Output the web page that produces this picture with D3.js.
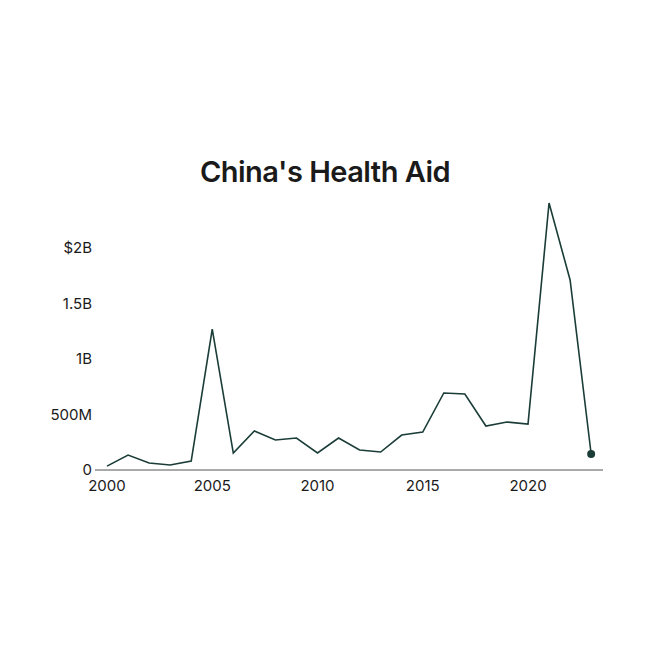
<!DOCTYPE html>
<html><head><meta charset="utf-8">
<script src="https://cdn.jsdelivr.net/npm/d3@7"></script>
<style>body{margin:0;background:#fff;font-family:Inter,"Noto Sans",sans-serif}</style>
</head><body><svg id="c" width="650" height="650"></svg>
<script>
const years=[2000,2001,2002,2003,2004,2005,2006,2007,2008,2009,2010,2011,2012,2013,2014,2015,2016,2017,2018,2019,2020,2021,2022,2023];
const values=[35,135,63,45,80,1270,153,351,270,288,153,288,180,162,315,342,694,685,396,432,414,2405,1712,144];
const yTicks=[0,500,1000,1500,2000];
const yLabels=["0","500M","1B","1.5B","$2B"];
const xTicks=[2000,2005,2010,2015,2020];
const color="#1b3d38";
const svg=d3.select("#c");
const x=d3.scaleLinear().domain([2000,2020]).range([107,528]);
const y=d3.scaleLinear().domain([0,2000]).range([470,248]);
svg.append("text").attr("x",325).attr("y",182).attr("text-anchor","middle").attr("font-size",29).attr("font-weight",600).attr("fill","#1a1a1a").attr("letter-spacing","-0.5").text("China's Health Aid");
svg.append("line").attr("x1",95).attr("x2",603).attr("y1",y(0)).attr("y2",y(0)).attr("stroke","#555").attr("stroke-width",1);
svg.selectAll(".yl").data(yTicks).join("text").attr("x",92).attr("y",d=>y(d)).attr("dy","0.35em").attr("text-anchor","end").attr("font-size",15).attr("fill","#1a1a1a").text((d,i)=>yLabels[i]);
svg.selectAll(".xl").data(xTicks).join("text").attr("x",d=>x(d)).attr("y",491).attr("text-anchor","middle").attr("font-size",15).attr("fill","#1a1a1a").text(d=>d);
const line=d3.line().x((d,i)=>x(years[i])).y(d=>y(d));
svg.append("path").datum(values).attr("d",line).attr("fill","none").attr("stroke",color).attr("stroke-width",1.6).attr("stroke-linejoin","miter");
svg.append("circle").attr("cx",x(years[years.length-1])).attr("cy",y(values[values.length-1])).attr("r",4).attr("fill",color);
</script></body></html>
